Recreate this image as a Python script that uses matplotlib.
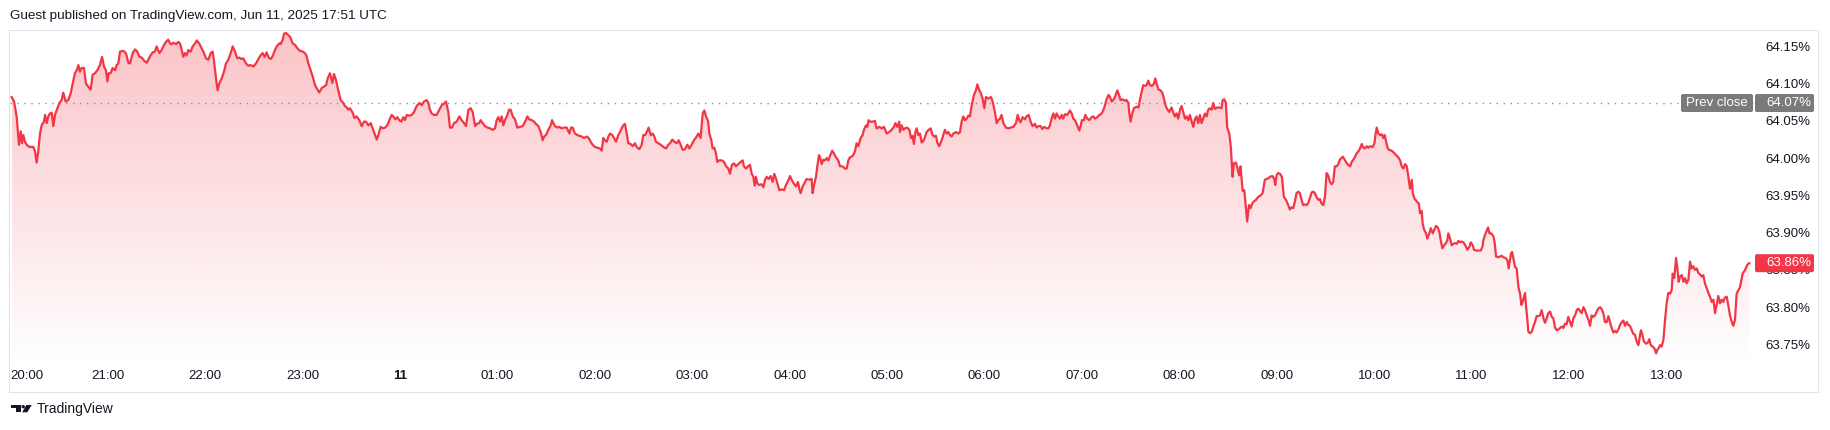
import numpy as np
import matplotlib
matplotlib.use("Agg")
import matplotlib.pyplot as plt
from matplotlib.colors import to_rgb
from matplotlib.patches import Rectangle, Polygon, Circle, FancyBboxPatch

plt.rcParams['font.family'] = ['Liberation Sans', 'DejaVu Sans']

# minutes after 20:00 (Jun 10) -> yield in percent
t_min = [
    0.7, 2.2, 3.8, 5.2, 6.3, 7.1, 7.9, 8.9, 10.0, 11.6, 14.1, 15.1, 16.1, 17.1, 18.2, 19.2, 20.6, 21.3, 22.3, 23.3,
    24.3, 25.4, 26.4, 27.4, 28.9, 30.1, 31.5, 32.5, 34.0, 35.6, 37.1, 38.3, 39.7, 40.8, 41.8, 42.8, 43.8, 45.3, 46.5, 47.9,
    49.4, 50.6, 52.1, 53.5, 55.1, 56.4, 57.6, 58.8, 59.7, 60.5, 61.7, 62.9, 64.4, 65.4, 66.4, 67.5, 69.5, 71.1, 72.6, 73.6,
    75.3, 76.7, 78.1, 79.4, 80.8, 82.2, 83.9, 85.3, 86.3, 87.6, 89.0, 90.0, 91.7, 93.1, 94.1, 95.8, 97.2, 98.3, 99.3, 100.3,
    102.0, 103.4, 104.4, 105.4, 106.5, 107.5, 108.5, 109.5, 111.0, 112.2, 113.7, 114.7, 116.3, 117.8, 118.8, 120.4, 121.9, 123.3, 124.5, 125.4,
    126.6, 127.6, 128.6, 130.1, 131.5, 132.7, 134.2, 135.2, 136.9, 138.3, 139.7, 141.0, 142.2, 143.4, 145.1, 146.5, 147.9, 149.6, 151.2, 152.7,
    154.1, 155.3, 156.6, 157.8, 159.0, 160.3, 161.5, 162.9, 164.0, 165.6, 166.4, 167.7, 168.5, 169.7, 171.1, 172.2, 173.8, 175.3, 176.9, 178.3,
    180.0, 181.4, 182.4, 183.5, 184.9, 186.5, 187.6, 188.6, 190.2, 191.7, 193.1, 194.4, 195.4, 196.8, 198.3, 199.3, 200.5, 201.9, 203.4, 205.0,
    206.0, 207.1, 208.1, 209.1, 210.8, 211.8, 213.2, 214.9, 216.3, 217.8, 219.0, 220.4, 221.9, 223.1, 224.6, 225.6, 226.6, 228.0, 229.3, 230.7,
    232.1, 233.4, 234.8, 235.8, 237.1, 238.3, 239.5, 240.8, 242.0, 243.0, 244.1, 245.7, 247.1, 248.6, 250.2, 251.9, 253.3, 254.7, 256.4, 257.4,
    258.4, 259.4, 260.9, 262.5, 264.2, 265.6, 267.0, 268.3, 269.7, 270.7, 272.0, 273.2, 274.8, 276.5,
    277.9, 279.4, 280.6, 282.1, 283.5, 284.7, 286.2, 287.2, 288.8, 289.6, 290.9, 292.3, 293.8, 295.4, 297.0, 298.5, 299.5, 300.5, 301.6, 302.6,
    303.6, 304.6, 306.1, 307.1, 308.1, 309.4, 310.8, 312.2, 313.9, 315.5, 317.0, 318.4, 319.6, 321.1, 322.5, 323.7, 325.2, 326.6, 327.8, 328.7,
    329.9, 331.3, 332.8, 333.6, 334.4, 335.4, 336.9, 338.1, 339.5, 341.0, 342.6, 344.3, 345.3, 346.3, 347.7, 349.2, 350.4, 351.9, 353.3, 354.9,
    356.2, 357.4, 358.6, 360.1, 361.5, 363.1, 364.2, 365.2, 366.2, 367.3, 368.3, 369.3, 370.7, 371.8, 373.0, 374.4, 375.5, 376.5, 377.5, 378.5,
    379.6, 380.6, 382.0, 383.3, 384.7, 385.7, 387.4, 388.8, 389.8, 390.9, 391.9, 393.1, 394.4, 395.6, 396.6, 397.6, 399.1, 400.5, 402.2, 403.8,
    405.2, 406.3, 407.7, 408.9, 410.4, 411.6, 412.8, 414.1, 415.5, 416.9, 418.2, 419.6, 421.0, 422.7, 423.7, 425.1, 426.4, 427.4, 428.4, 429.7,
    430.5, 431.7, 432.5, 433.6, 434.6, 435.4, 436.6, 438.1, 439.5, 440.8, 442.2, 443.2, 444.4, 445.7, 446.9, 448.3, 449.8, 451.0, 451.8, 453.1,
    454.3, 455.5, 456.6, 457.6, 458.4, 459.2, 460.1, 461.3, 462.7, 463.8, 464.8, 465.8, 467.0, 468.3, 469.5, 470.5, 471.5, 472.4, 473.6, 475.0,
    476.5, 477.7, 479.1, 480.2, 481.2, 482.2, 483.9, 485.1, 485.9, 486.7, 488.0, 489.4, 490.4, 492.1, 493.5, 494.1, 495.0, 496.2, 497.0, 498.0,
    498.6, 499.7, 500.7, 501.7, 502.8, 503.8, 504.8, 506.2, 507.3, 508.5, 509.9, 511.0, 512.6, 514.0, 515.1, 516.1, 517.1, 518.8, 520.2, 521.2,
    522.3, 523.7, 524.9, 525.7, 527.0, 527.8, 528.6, 529.4, 531.1, 532.5, 533.5, 535.2, 536.6, 538.1, 539.7, 541.3, 542.8, 544.2, 545.1, 546.3,
    547.5, 547.9, 549.0, 550.0, 551.0, 552.4, 553.7, 554.7, 555.7, 556.5, 557.4, 558.2, 559.2, 560.2, 561.3, 562.3, 563.3, 564.3, 565.6, 566.8,
    568.0, 569.1, 570.1, 570.9, 572.1, 573.6, 574.6, 575.6, 576.7, 577.7, 578.7, 579.7, 580.8, 582.4, 583.9, 584.9, 585.9, 586.9, 587.9, 589.0,
    590.0, 591.0, 592.1, 593.5, 594.7, 595.6, 596.6, 597.6, 598.8, 599.9, 600.9, 602.3, 604.0, 605.0, 606.4, 607.5, 608.5, 609.5, 610.5, 611.6,
    613.2, 614.6, 616.1, 617.7, 619.4, 620.4, 621.4, 622.2, 623.5, 624.9, 625.9, 627.2, 628.4, 629.6, 631.1, 632.1, 633.3, 634.6, 635.6, 636.8,
    638.3, 639.3, 640.3, 641.3, 642.4, 643.4, 644.4, 645.4, 646.5, 647.5, 648.5, 649.5, 651.0, 652.6, 653.7, 654.7, 655.7, 657.1, 658.4, 659.2,
    660.0, 661.2, 662.1, 663.3, 664.5, 666.0, 667.0, 668.0, 669.5, 670.7, 671.7, 672.7, 673.8, 675.2, 676.4, 677.3, 678.3, 679.3, 680.5, 681.8,
    682.8, 683.8, 685.1, 686.3, 687.5, 688.6, 689.2, 690.0, 690.8, 692.0, 693.7, 694.9, 695.7, 697.0, 697.8, 698.8, 699.8, 700.9, 701.9, 703.1,
    704.4, 705.2, 706.0, 707.2, 708.5, 709.7, 710.7, 711.8, 712.8, 713.8, 715.2, 716.3, 717.3, 718.3, 719.3, 720.4, 721.4, 722.4, 723.5, 724.5,
    725.5, 726.5, 727.6, 728.6, 729.6, 730.6, 731.7, 732.7, 733.7, 734.7, 735.8, 736.8, 737.8, 738.8, 739.9, 740.9, 741.9, 743.4, 744.6, 746.0,
    746.7, 747.7, 748.7, 749.5, 750.8, 751.8, 752.8, 753.6, 754.9, 756.1, 756.9, 757.7, 759.0, 760.0, 761.0, 761.8, 762.9, 763.9, 764.9, 765.9,
    767.2, 768.6, 770.1, 771.3, 772.7, 773.7, 774.8, 775.8, 777.4, 778.5, 779.1, 779.9, 780.9, 782.0, 783.2, 784.4, 785.7, 787.1, 788.1, 789.2,
    790.2, 791.2, 792.2, 793.3, 794.3, 795.3, 796.3, 797.4, 798.4, 799.4, 800.4, 801.5, 802.5, 803.5, 804.5, 805.6, 806.6, 807.6, 808.6, 809.7,
    810.7, 811.7, 812.8, 813.8, 814.8, 815.8, 816.9, 817.9, 818.9,
    820.7, 822.1, 823.5, 825.2, 826.2, 827.2, 828.3, 829.3, 830.3, 831.3, 832.4, 833.4, 834.4, 835.4, 836.5, 837.5, 839.1, 840.2, 840.8, 841.6,
    842.6, 843.7, 844.7, 845.7, 846.5, 847.4, 848.4, 849.4, 850.8, 852.3, 853.5, 854.9, 856.0, 857.0, 858.0, 859.1, 860.1, 861.1, 862.1, 863.2,
    863.8, 864.8, 866.2, 867.5, 868.3, 869.3, 869.9, 870.8, 872.0, 872.8, 874.0, 874.9, 876.1, 877.1, 878.1, 879.2, 880.2, 881.0, 882.0, 883.1,
    884.3, 885.1, 885.7, 886.8, 887.8, 888.8, 889.8, 890.9, 891.9, 892.9, 893.9, 895.0, 896.2, 897.4, 898.7, 899.5, 900.7, 901.5, 902.8, 904.2,
    905.7, 906.7, 907.3, 908.3, 909.4, 910.2, 911.0, 912.2, 913.5, 914.3, 915.1, 916.5, 917.6, 918.6, 919.6, 920.9, 922.1, 922.9, 923.7, 924.3,
    925.0, 925.8, 926.8, 927.8, 928.9, 929.9, 930.7, 931.5, 932.3, 933.0, 933.6, 934.4, 935.0, 936.0, 937.1, 938.1, 939.1, 940.1, 941.2, 942.2,
    943.2, 944.3, 945.3, 946.3, 947.3, 948.4, 949.4, 950.4, 951.4, 952.5, 953.5, 954.5, 955.7, 956.6, 957.6, 958.6, 959.6, 960.7, 961.7, 962.7,
    963.8, 964.8, 965.8, 966.8, 967.9, 968.9, 969.9, 970.9, 972.0, 973.0, 974.0, 975.0, 976.1, 977.1, 978.1, 979.2, 980.2, 981.2, 982.2, 983.3,
    984.3, 985.3, 986.3, 987.4, 988.4, 989.4, 990.4, 991.5, 992.5, 993.5, 994.5, 995.6, 996.6, 997.6, 998.7, 999.7, 1000.7, 1001.7, 1002.8, 1003.8,
    1004.4, 1005.2, 1006.2, 1007.5, 1008.5, 1009.5, 1010.4, 1011.6, 1012.6, 1013.7, 1014.5, 1015.3, 1016.1, 1017.1, 1018.2, 1019.2, 1020.2, 1021.2, 1022.3, 1023.3,
    1023.9, 1024.9, 1026.0, 1026.8, 1027.6, 1028.4, 1029.5, 1030.5, 1031.5, 1032.5, 1033.6, 1034.6, 1035.6, 1036.6, 1037.7, 1038.7, 1039.7, 1040.7, 1041.8, 1042.8,
    1043.8, 1044.9, 1045.9, 1046.9, 1047.9, 1049.0, 1050.0, 1051.0, 1052.0, 1053.1, 1054.1, 1055.1, 1056.1, 1057.2, 1058.2, 1059.2, 1060.3, 1061.3, 1062.3, 1063.3,
    1064.4, 1065.4, 1067.0, 1068.5, 1069.9, 1071.1,
]
pct = [
    64.082, 64.076, 64.056, 64.018, 64.036, 64.020, 64.031, 64.022, 64.018, 64.015, 64.015, 64.009, 63.994, 64.009, 64.033, 64.044, 64.049, 64.058, 64.047, 64.056,
    64.060, 64.061, 64.043, 64.058, 64.067, 64.074, 64.078, 64.088, 64.076, 64.078, 64.087, 64.100, 64.114, 64.118, 64.125, 64.116, 64.121, 64.121, 64.100, 64.096,
    64.092, 64.112, 64.114, 64.118, 64.125, 64.136, 64.123, 64.118, 64.103, 64.114, 64.114, 64.121, 64.118, 64.125, 64.127, 64.143, 64.144, 64.141, 64.128, 64.127,
    64.141, 64.146, 64.143, 64.136, 64.135, 64.131, 64.128, 64.134, 64.138, 64.142, 64.143, 64.150, 64.141, 64.145, 64.150, 64.156, 64.159, 64.154, 64.153, 64.155,
    64.153, 64.156, 64.154, 64.146, 64.136, 64.141, 64.138, 64.145, 64.143, 64.150, 64.154, 64.158, 64.154, 64.147, 64.143, 64.134, 64.132, 64.141, 64.143, 64.130,
    64.107, 64.091, 64.100, 64.107, 64.116, 64.127, 64.132, 64.138, 64.150, 64.143, 64.134, 64.135, 64.133, 64.134, 64.127, 64.124, 64.125, 64.123, 64.127, 64.133,
    64.138, 64.141, 64.136, 64.142, 64.135, 64.133, 64.137, 64.145, 64.150, 64.154, 64.153, 64.159, 64.167, 64.168, 64.165, 64.163, 64.154, 64.152, 64.147, 64.144,
    64.143, 64.141, 64.137, 64.127, 64.118, 64.107, 64.098, 64.094, 64.088, 64.094, 64.096, 64.098, 64.107, 64.114, 64.101, 64.113, 64.105, 64.091, 64.078, 64.074,
    64.070, 64.068, 64.065, 64.067, 64.061, 64.054, 64.056, 64.051, 64.043, 64.049, 64.049, 64.044, 64.047, 64.040, 64.031, 64.025, 64.031, 64.042, 64.040, 64.041,
    64.044, 64.051, 64.058, 64.056, 64.052, 64.055, 64.051, 64.049, 64.055, 64.051, 64.058, 64.057, 64.058, 64.062, 64.070, 64.074, 64.071, 64.076, 64.078, 64.074,
    64.065, 64.060, 64.058, 64.058, 64.065, 64.071, 64.073, 64.076, 64.062, 64.041, 64.041, 64.047, 64.049, 64.056,
    64.051, 64.047, 64.043, 64.065, 64.067, 64.062, 64.043, 64.046, 64.047, 64.051, 64.047, 64.043, 64.041, 64.040, 64.038, 64.040, 64.051, 64.055, 64.049, 64.056,
    64.044, 64.051, 64.058, 64.065, 64.065, 64.056, 64.052, 64.041, 64.042, 64.043, 64.049, 64.056, 64.052, 64.051, 64.049, 64.046, 64.043, 64.035, 64.024, 64.029,
    64.031, 64.038, 64.044, 64.051, 64.047, 64.043, 64.041, 64.042, 64.040, 64.041, 64.041, 64.033, 64.041, 64.041, 64.033, 64.031, 64.030, 64.029, 64.027, 64.029,
    64.027, 64.022, 64.018, 64.015, 64.014, 64.013, 64.010, 64.027, 64.024, 64.022, 64.029, 64.033, 64.031, 64.027, 64.022, 64.031, 64.035, 64.040, 64.044, 64.046,
    64.033, 64.020, 64.019, 64.016, 64.020, 64.015, 64.012, 64.018, 64.031, 64.031, 64.035, 64.041, 64.031, 64.033, 64.029, 64.022, 64.020, 64.018, 64.015, 64.013,
    64.018, 64.020, 64.025, 64.022, 64.020, 64.024, 64.018, 64.011, 64.012, 64.018, 64.013, 64.018, 64.024, 64.029, 64.033, 64.027, 64.060, 64.064, 64.056, 64.050,
    64.033, 64.024, 64.013, 64.014, 64.006, 63.995, 63.997, 63.997, 63.995, 63.989, 63.986, 63.979, 63.991, 63.993, 63.989, 63.992, 63.995, 63.997, 63.989, 63.986,
    63.989, 63.991, 63.979, 63.975, 63.963, 63.975, 63.966, 63.964, 63.965, 63.961, 63.971, 63.975, 63.972, 63.976, 63.968, 63.979, 63.973, 63.966, 63.957, 63.958,
    63.957, 63.964, 63.970, 63.976, 63.971, 63.967, 63.962, 63.968, 63.959, 63.953, 63.962, 63.968, 63.972, 63.971, 63.972, 63.953, 63.964, 63.975, 63.989, 64.004,
    64.002, 63.992, 63.998, 63.997, 64.000, 63.997, 64.003, 64.010, 64.006, 64.001, 63.997, 63.989, 63.989, 63.986, 63.986, 63.997, 64.001, 64.003, 64.009, 64.020,
    64.016, 64.027, 64.031, 64.038, 64.044, 64.042, 64.051, 64.049, 64.049, 64.050, 64.040, 64.042, 64.040, 64.042, 64.033, 64.035, 64.038, 64.042, 64.047, 64.042,
    64.049, 64.035, 64.044, 64.038, 64.040, 64.041, 64.038, 64.027, 64.030, 64.019, 64.035, 64.040, 64.031, 64.033, 64.021, 64.023, 64.028, 64.035, 64.038, 64.040,
    64.031, 64.029, 64.030, 64.021, 64.016, 64.024, 64.031, 64.038, 64.033, 64.035, 64.031, 64.029, 64.033, 64.035, 64.033, 64.035, 64.049, 64.056, 64.051, 64.053,
    64.057, 64.056, 64.071, 64.085, 64.091, 64.099, 64.092, 64.088, 64.080, 64.067, 64.082, 64.080, 64.082, 64.076, 64.062, 64.047, 64.051, 64.053, 64.058, 64.047,
    64.041, 64.040, 64.041, 64.042, 64.047, 64.058, 64.051, 64.048, 64.055, 64.052, 64.056, 64.058, 64.049, 64.043, 64.046, 64.041, 64.043, 64.043, 64.039, 64.042,
    64.040, 64.040, 64.044, 64.053, 64.060, 64.053, 64.060, 64.056, 64.053, 64.058, 64.053, 64.059, 64.058, 64.064, 64.060, 64.053, 64.051, 64.044, 64.037, 64.043,
    64.051, 64.051, 64.058, 64.053, 64.051, 64.055, 64.056, 64.053, 64.055, 64.058, 64.059, 64.062, 64.068, 64.079, 64.085, 64.082, 64.076, 64.078, 64.083, 64.091,
    64.085, 64.078, 64.079, 64.077, 64.078, 64.074, 64.060, 64.049, 64.058, 64.067, 64.069, 64.068, 64.078, 64.091, 64.098, 64.097, 64.098, 64.104, 64.098, 64.097,
    64.100, 64.107, 64.100, 64.092, 64.091, 64.087, 64.078, 64.069, 64.065, 64.062, 64.068, 64.061, 64.056, 64.060, 64.053, 64.065, 64.070, 64.062, 64.053, 64.056,
    64.051, 64.058, 64.049, 64.042, 64.052, 64.056, 64.047, 64.058, 64.047, 64.053, 64.060, 64.056, 64.065, 64.067, 64.065, 64.074, 64.066, 64.068, 64.068, 64.067,
    64.078, 64.079, 64.074, 64.041, 64.033, 64.013, 63.975, 63.993, 63.994, 63.984, 63.977, 63.989, 63.956, 63.957, 63.933, 63.915, 63.937, 63.933, 63.939, 63.942,
    63.944, 63.948, 63.950, 63.953, 63.971, 63.972, 63.973, 63.975, 63.976, 63.972, 63.964, 63.977, 63.980, 63.979, 63.975, 63.948, 63.944, 63.937, 63.931, 63.934,
    63.933, 63.942, 63.953, 63.955, 63.953, 63.944, 63.937, 63.938, 63.937, 63.940, 63.946, 63.954, 63.955, 63.953, 63.948, 63.944, 63.945, 63.939, 63.937, 63.948,
    63.980, 63.977, 63.968, 63.965, 63.968, 63.989, 63.989, 63.992, 63.998,
    64.002, 63.997, 63.992, 63.989, 63.995, 63.998, 64.002, 64.007, 64.009, 64.013, 64.019, 64.014, 64.013, 64.016, 64.014, 64.016, 64.015, 64.020, 64.031, 64.041,
    64.033, 64.031, 64.032, 64.027, 64.031, 64.022, 64.013, 64.011, 64.010, 64.007, 64.004, 64.001, 63.997, 63.989, 63.986, 63.992, 63.989, 63.975, 63.959, 63.971,
    63.953, 63.946, 63.942, 63.939, 63.926, 63.929, 63.912, 63.904, 63.899, 63.892, 63.899, 63.906, 63.899, 63.904, 63.909, 63.907, 63.901, 63.890, 63.879, 63.883,
    63.886, 63.890, 63.899, 63.892, 63.883, 63.885, 63.886, 63.885, 63.889, 63.887, 63.888, 63.887, 63.883, 63.877, 63.881, 63.887, 63.883, 63.877, 63.876, 63.876,
    63.876, 63.881, 63.890, 63.897, 63.903, 63.907, 63.899, 63.899, 63.895, 63.886, 63.868, 63.867, 63.868, 63.869, 63.867, 63.866, 63.863, 63.852, 63.863, 63.872,
    63.874, 63.865, 63.854, 63.852, 63.827, 63.818, 63.803, 63.807, 63.814, 63.819, 63.801, 63.783, 63.767, 63.765, 63.767, 63.774, 63.780, 63.788, 63.788, 63.789,
    63.796, 63.785, 63.779, 63.785, 63.792, 63.794, 63.787, 63.785, 63.773, 63.769, 63.770, 63.772, 63.774, 63.772, 63.778, 63.777, 63.787, 63.780, 63.774, 63.785,
    63.789, 63.796, 63.798, 63.795, 63.792, 63.800, 63.796, 63.789, 63.783, 63.775, 63.789, 63.787, 63.789, 63.794, 63.798, 63.800, 63.797, 63.792, 63.780, 63.780,
    63.788, 63.780, 63.772, 63.766, 63.768, 63.766, 63.770, 63.776, 63.780, 63.782, 63.775, 63.780, 63.776, 63.775, 63.769, 63.764, 63.763, 63.754, 63.749, 63.763,
    63.769, 63.763, 63.754, 63.751, 63.752, 63.757, 63.749, 63.747, 63.745, 63.738, 63.743, 63.745, 63.749, 63.747, 63.756, 63.783, 63.805, 63.819, 63.818, 63.823,
    63.845, 63.839, 63.866, 63.852, 63.834, 63.841, 63.843, 63.834, 63.839, 63.832, 63.837, 63.861, 63.852, 63.855, 63.850, 63.852, 63.846, 63.844, 63.841, 63.843,
    63.832, 63.825, 63.819, 63.814, 63.807, 63.810, 63.792, 63.803, 63.815, 63.805, 63.810, 63.807, 63.813, 63.814, 63.802, 63.789, 63.780, 63.775, 63.783, 63.818,
    63.823, 63.827, 63.845, 63.850, 63.857, 63.859,
]

prev_close = 64.074
y_ticks = [63.75, 63.80, 63.85, 63.90, 63.95, 64.00, 64.05, 64.10, 64.15]
x_ticks = [0, 60, 120, 180, 240, 300, 360, 420, 480, 540, 600, 660, 720, 780, 840, 900, 960, 1020]
x_labels = ['20:00', '21:00', '22:00', '23:00', '11', '01:00', '02:00', '03:00', '04:00',
            '05:00', '06:00', '07:00', '08:00', '09:00', '10:00', '11:00', '12:00', '13:00']
header = "Guest published on TradingView.com, Jun 11, 2025 17:51 UTC"

RED = '#f23645'
TXT = '#131722'
W, H = 1831, 430

fig = plt.figure(figsize=(W / 100, H / 100), dpi=100)
fig.patch.set_facecolor('white')

# main price pane
ax = fig.add_axes([10 / W, 1 - 364 / H, 1744 / W, 334 / H])
y_lo, y_hi = 63.7237, 64.172

fill = ax.fill_between(t_min, pct, y_lo, facecolor='none', edgecolor='none')
grad = np.zeros((256, 1, 4))
grad[..., :3] = to_rgb(RED)
grad[..., 3] = np.linspace(0.30, 0.0, 256)[:, None]
im = ax.imshow(grad, extent=[t_min[0], t_min[-1], y_lo, y_hi], origin='upper',
               aspect='auto', interpolation='bilinear', zorder=1)
im.set_clip_path(fill.get_paths()[0], transform=ax.transData)

ax.plot(t_min, pct, color=RED, lw=1.6, zorder=3, solid_joinstyle='round')
ax.axhline(prev_close, color='#8a8d96', lw=1, linestyle=(0, (1, 4)), zorder=2)

ax.set_xlim(-0.3, 1074)
ax.set_ylim(y_lo, y_hi)

ax.yaxis.tick_right()
ax.set_yticks(y_ticks)
ax.set_yticklabels([f'{v:.2f}%' for v in y_ticks])
ax.tick_params(axis='y', length=0, pad=8, labelsize=9.5, labelcolor=TXT)
ax.set_xticks(x_ticks)
ax.set_xticklabels(x_labels)
ax.tick_params(axis='x', length=0, pad=4, labelsize=9.5, labelcolor=TXT)
for lab in ax.get_xticklabels():
    if lab.get_text() == '11':
        lab.set_fontweight('bold')
ax.get_xticklabels()[0].set_horizontalalignment('left')
for s in ax.spines.values():
    s.set_visible(False)


def y_px(v):
    # data value -> pixel row from the top of the figure
    return H - ax.transData.transform((0, v))[1]


# overlay in pixel coordinates for frame, labels and logo
ov = fig.add_axes([0, 0, 1, 1], facecolor='none')
ov.set_xlim(0, W)
ov.set_ylim(H, 0)
ov.axis('off')

ov.add_patch(Rectangle((9.5, 29.5), 1809, 362, fill=False, ec='#e0e3eb', lw=0.8))
ov.text(10.5, 16, header, fontsize=9.7, color=TXT, va='center', ha='left')

# prev close marker
yp = y_px(prev_close)
ov.add_patch(FancyBboxPatch((1681, yp - 9), 72, 18, boxstyle='round,pad=0,rounding_size=2',
                            fc='#7a7a7a', ec='none'))
ov.text(1716.5, yp, 'Prev close', color='white', fontsize=9.5, ha='center', va='center')
ov.add_patch(FancyBboxPatch((1755, yp - 9), 59, 18, boxstyle='round,pad=0,rounding_size=2',
                            fc='#7a7a7a', ec='none'))
ov.text(1766, yp, f'{prev_close:.2f}%', color='white', fontsize=9.5, ha='left', va='center')

# last value marker
yl = y_px(pct[-1])
ov.add_patch(FancyBboxPatch((1755, yl - 9), 59, 18, boxstyle='round,pad=0,rounding_size=2',
                            fc=RED, ec='none'))
ov.text(1766, yl, f'{pct[-1]:.2f}%', color='white', fontsize=9.5, ha='left', va='center')

# TradingView logo
ov.add_patch(Polygon([(11, 405), (20.7, 405), (20.7, 412.3), (15.7, 412.3), (15.7, 408.3), (11, 408.3)],
                     closed=True, fc=TXT, ec='none'))
ov.add_patch(Circle((23.2, 406.7), 1.7, fc=TXT, ec='none'))
ov.add_patch(Polygon([(26.3, 405), (31.7, 405), (27.3, 412.3), (22.2, 412.3)], closed=True, fc=TXT, ec='none'))
ov.text(37, 409.5, 'TradingView', fontsize=10, color=TXT, va='center', ha='left')

fig.savefig('out.png', dpi=100, facecolor='white')
